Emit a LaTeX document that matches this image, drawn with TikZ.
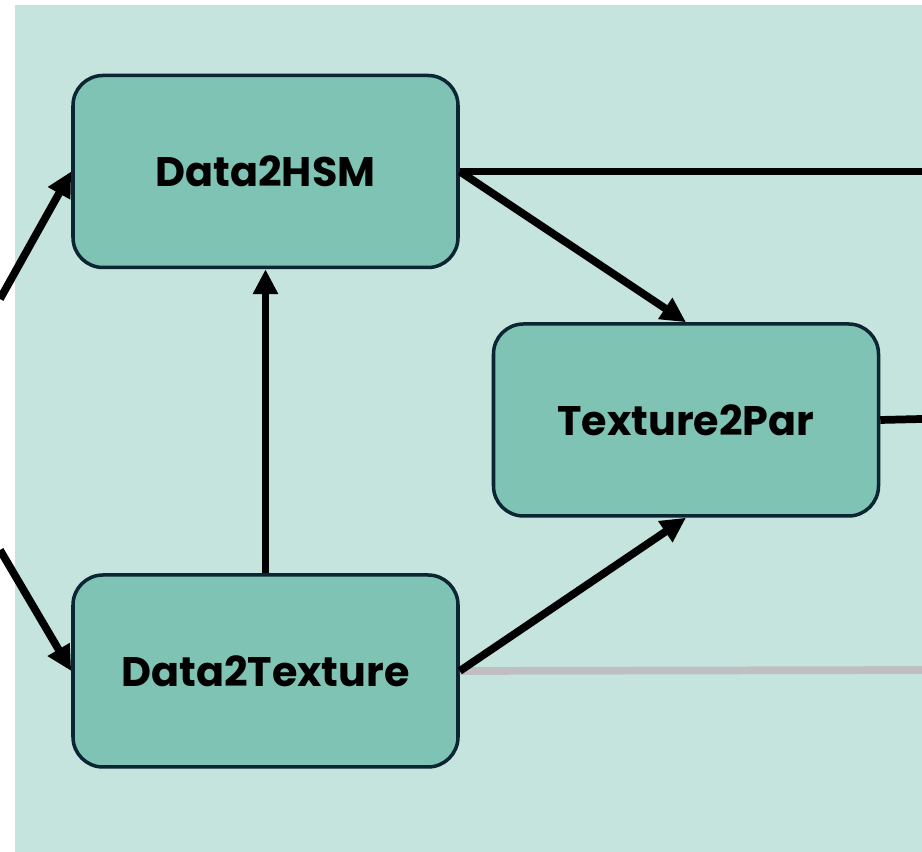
\documentclass[tikz,border=0pt]{standalone}
\usepackage{fontspec}
\setmainfont{Poppins}
\usetikzlibrary{arrows.meta}
\definecolor{bgteal}{HTML}{C5E4DE}
\definecolor{boxteal}{HTML}{7FC3B4}
\definecolor{boxline}{HTML}{0B2532}
\definecolor{lightgray}{HTML}{BFBFBF}
\tikzset{
  module/.style={draw=boxline,fill=boxteal,line width=2pt,rounded corners=0.6cm,
    minimum width=7.7cm,minimum height=3.84cm,
    font=\fontsize{23.5}{28}\selectfont\bfseries},
  link/.style={line width=4.4pt,-{Triangle[length=0.5cm,width=0.48cm]}},
  wire/.style={line width=4.4pt}
}
\begin{document}
\begin{tikzpicture}
        \useasboundingbox (0,0) rectangle (18.44,17.04);
        \fill[bgteal] (0.3,0) rectangle (18.44,16.94);
        \node[module] (hsm) at (5.31,13.61) {Data2HSM};
        \node[module] (par) at (13.72,8.64) {Texture2Par};
        \node[module] (tex) at (5.31,3.62) {Data2Texture};
        \coordinate (inA) at (0,11.06);
        \coordinate (inB) at (0,6.04);
        \coordinate (outA) at (18.44,13.61);
        \coordinate (outB) at (18.44,8.66);
        \coordinate (outC) at (18.44,3.64);
        \draw[wire,lightgray] (tex.east) -- (outC);
        \draw[link] (inA) -- (hsm.west);
        \draw[link] (inB) -- (tex.west);
        \draw[wire] (hsm.east) -- (outA);
        \draw[link] (hsm.east) -- (par.north);
        \draw[link] (tex.north) -- (hsm.south);
        \draw[link] (tex.east) -- (par.south);
        \draw[wire] (par.east) -- (outB);
    \end{tikzpicture}
\end{document}
